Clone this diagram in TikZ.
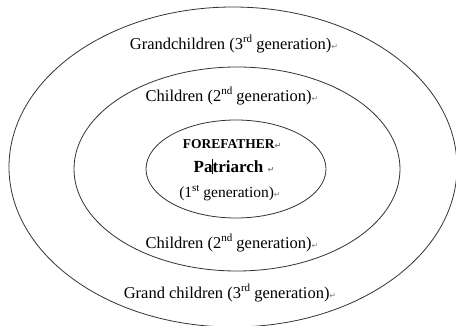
\documentclass[tikz,border=0pt]{standalone}
\usepackage{fontspec}
\setmainfont{Liberation Serif}
\newfontfamily\markfont{DejaVu Sans}
\newcommand{\pmark}{{\markfont\color{gray}\fontsize{8}{8}\selectfont ↵}}
\newcommand{\sups}[1]{\raisebox{0.38em}{\fontsize{11}{11}\selectfont #1}}
\begin{document}
\begin{tikzpicture}[x=1pt,y=-1pt,
  ring/.style={draw=black!80, line width=0.8pt},
  lbl/.style={font=\fontsize{16.5}{18}\selectfont, inner sep=0pt}]
\useasboundingbox (0,0) rectangle (456,326);
\draw[ring] (233,167) ellipse [x radius=224, y radius=160];
\draw[ring] (237,169) ellipse [x radius=163, y radius=102];
\draw[ring] (236,169) ellipse [x radius=90, y radius=49];
\node[lbl] (g1) at (234,44) {Grandchildren (3\sups{rd} generation)\pmark};
\node[lbl] (c1) at (232,96) {Children (2\sups{nd} generation)\pmark};
\node[lbl, font=\fontsize{13.5}{15}\selectfont\bfseries] (ff) at (232,144) {FOREFATHER\pmark};
\node[lbl, font=\fontsize{17}{19}\selectfont\bfseries] (pa) at (234,167) {Pa\rlap{\kern-0.3pt\rule[-2pt]{0.9pt}{15pt}}triarch \pmark};
\node[lbl, font=\fontsize{15.5}{17}\selectfont] (fg) at (230,193) {(1\sups{st} generation)\pmark};
\node[lbl] (c2) at (232,243) {Children (2\sups{nd} generation)\pmark};
\node[lbl] (g2) at (230,293) {Grand children (3\sups{rd} generation)\pmark};
\end{tikzpicture}
\end{document}
